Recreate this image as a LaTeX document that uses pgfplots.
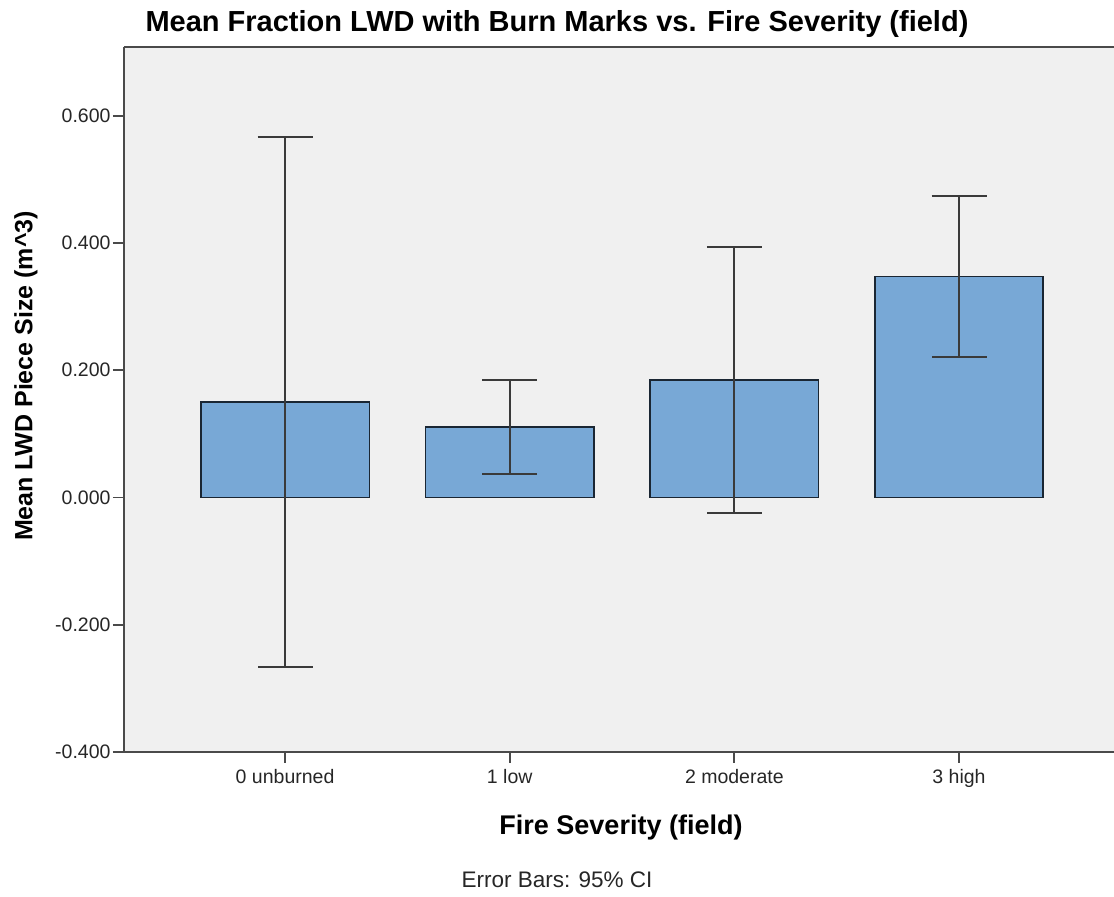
\documentclass[border=0pt]{standalone}
\usepackage{fontspec}
\setmainfont{Liberation Sans}
\usepackage{pgfplots}
\pgfplotsset{compat=1.18}
\definecolor{barfill}{HTML}{78A8D6}
\definecolor{baredge}{HTML}{1A2633}
\definecolor{bggray}{HTML}{F0F0F0}
\definecolor{axisgray}{HTML}{4A4A4A}
\definecolor{errgray}{HTML}{3A3A3A}
\begin{document}
\begin{tikzpicture}[x=1bp,y=1bp]
\path[use as bounding box] (-124,-145) rectangle (990,752);
\begin{axis}[
  at={(0,0)}, anchor=south west,
  scale only axis, width=990bp, height=705bp,
  xmin=-0.717, xmax=3.69, ymin=-0.4, ymax=0.708,
  enlargelimits=false,
  axis x line*=box, axis y line*=left,
  axis line style={axisgray, line width=2.5bp, -},
  axis background/.style={fill=bggray},
  xtick={0,1,2,3}, xticklabels={0 unburned,1 low,2 moderate,3 high},
  ytick={-0.4,-0.2,0,0.2,0.4,0.6},
  yticklabels={{-0.400},{-0.200},{0.000},{0.200},{0.400},{0.600}},
  xtick pos=bottom, ytick pos=left,
  tick align=outside, major tick length=11bp,
  tick style={axisgray, line width=1.8bp},
  ticklabel style={font=\fontsize{19.5bp}{22bp}\selectfont, text=black!85},
  xticklabel style={yshift=-3bp},
  yticklabel style={xshift=1bp},
  /pgf/number format/assume math mode=true,
]
\addplot[ybar, bar width=0.75, fill=barfill, draw=baredge, line width=1.6bp,
  error bars/.cd, y dir=both, y explicit,
  error bar style={errgray, line width=2bp},
  error mark options={rotate=90, mark size=27.5bp, errgray, line width=2bp}]
 coordinates {
  (0,0.150) += (0,0.416) -= (0,0.417)
  (1,0.111) += (0,0.073) -= (0,0.074)
  (2,0.185) += (0,0.209) -= (0,0.209)
  (3,0.347) += (0,0.127) -= (0,0.126)
 };
\end{axis}
\node[anchor=base, font=\bfseries\fontsize{29bp}{34bp}\selectfont] at (433,720) {Mean Fraction LWD with Burn Marks vs. Fire Severity (field)};
\node[anchor=base, font=\bfseries\fontsize{27bp}{32bp}\selectfont] at (497,-83) {Fire Severity (field)};
\node[rotate=90, anchor=center, font=\bfseries\fontsize{25bp}{30bp}\selectfont] at (-98,376) {Mean LWD Piece Size (m\^{}3)};
\node[anchor=base, font=\fontsize{22.5bp}{26bp}\selectfont, text=black!85] at (433,-136) {Error Bars: 95\% CI};
\end{tikzpicture}
\end{document}
